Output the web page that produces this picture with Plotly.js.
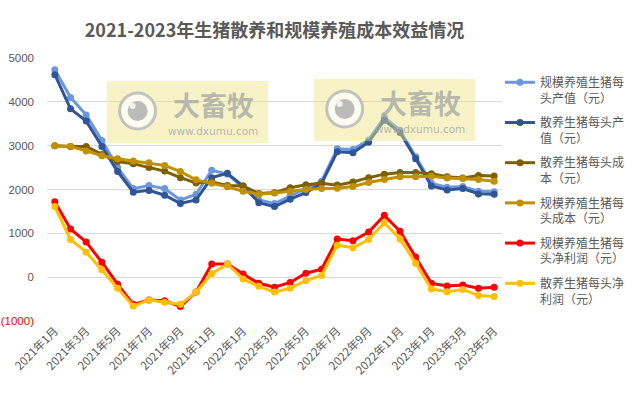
<!DOCTYPE html>
<html>
<head>
<meta charset="utf-8">
<script src="https://cdn.plot.ly/plotly-3.0.1.min.js"></script>
<style>
html,body{margin:0;padding:0;background:#fff;}
#chart{width:642px;height:394px;}
</style>
</head>
<body>
<div id="chart"></div>
<script>
// ---- data ----
const categories = ["2021年1月","2021年2月","2021年3月","2021年4月","2021年5月","2021年6月","2021年7月","2021年8月","2021年9月","2021年10月","2021年11月","2021年12月",
"2022年1月","2022年2月","2022年3月","2022年4月","2022年5月","2022年6月","2022年7月","2022年8月","2022年9月","2022年10月","2022年11月","2022年12月",
"2023年1月","2023年2月","2023年3月","2023年4月","2023年5月"];
const seriesNames = ["规模养殖生猪每<br>头产值（元）","散养生猪每头产<br>值（元）","散养生猪每头成<br>本（元）","规模养殖生猪每<br>头成本（元）","规模养殖生猪每<br>头净利润（元）","散养生猪每头净<br>利润（元）"];
const scaleValue  = [4730,4100,3700,3120,2500,2020,2090,2020,1760,1890,2440,2350,2040,1760,1680,1850,2020,2190,2930,2910,3130,3650,3350,2750,2140,2050,2070,1960,1950];
const freeValue   = [4620,3840,3560,2980,2410,1940,1980,1870,1680,1760,2270,2370,2080,1700,1610,1780,1930,2140,2860,2840,3080,3580,3300,2700,2080,1990,2020,1900,1890];
const freeCost    = [3000,2980,2980,2800,2640,2590,2500,2420,2270,2150,2170,2090,2080,1910,1930,2040,2110,2140,2100,2170,2270,2350,2390,2390,2360,2290,2260,2320,2310];
const scaleCost   = [3000,2980,2880,2770,2700,2650,2610,2550,2410,2220,2140,2060,1960,1890,1920,1960,2000,2020,2030,2070,2160,2230,2290,2290,2300,2260,2250,2230,2190];
const scaleProfit = [1720,1100,800,340,-160,-620,-520,-540,-670,-340,300,300,70,-140,-230,-120,90,180,870,830,1030,1410,1050,460,-140,-200,-180,-250,-230];
const freeProfit  = [1610,860,570,170,-250,-660,-520,-570,-620,-340,80,300,-40,-210,-340,-250,-80,40,730,670,860,1240,870,320,-270,-330,-280,-420,-440];
const yTickVals = [-1000,0,1000,2000,3000,4000,5000];
const yTickText = ['<span style="fill:#ff0000">(1000)</span>',"0","1000","2000","3000","4000","5000"];
const titleText = "2021-2023年生猪散养和规模养殖成本效益情况";
const wmMain = "大畜牧";
const wmSub = "www.dxumu.com";

// ---- styling ----
const colors = ["#6b98dc","#2f5597","#7f6000","#bf9000","#ff0000","#ffc000"];
const allSeries = [scaleValue, freeValue, freeCost, scaleCost, scaleProfit, freeProfit];

const traces = allSeries.map((vals, i) => ({
  type: "scatter", mode: "lines+markers",
  x: categories, y: vals, name: seriesNames[i],
  legendgroup: "g" + i,
  line: {color: colors[i], width: 3},
  marker: {color: colors[i], size: 7, symbol: "circle"},
  hoverinfo: "x+y"
}));

// plot area in pixels
const L = 47, R = 504, T = 58, B = 321;
const px = x => (x - L) / (R - L);
const py = y => (B - y) / (B - T);

const shapes = [];
const annotations = [];
function watermark(x0, y0) {
  shapes.push({type:"rect", xref:"paper", yref:"paper", layer:"above",
    x0:px(x0), x1:px(x0+162), y0:py(y0+62), y1:py(y0),
    fillcolor:"rgba(238,228,130,0.45)", line:{width:0}});
  const cx = x0 + 31, cy = y0 + 30;
  shapes.push({type:"circle", xref:"paper", yref:"paper", layer:"above",
    x0:px(cx-18), x1:px(cx+18), y0:py(cy+18), y1:py(cy-18),
    fillcolor:"rgba(255,255,255,0.75)", line:{color:"rgba(185,185,185,0.85)", width:3}});
  shapes.push({type:"circle", xref:"paper", yref:"paper", layer:"above",
    x0:px(cx-10), x1:px(cx+10), y0:py(cy+10), y1:py(cy-10),
    fillcolor:"rgba(175,175,175,0.85)", line:{width:0}});
  shapes.push({type:"circle", xref:"paper", yref:"paper", layer:"above",
    x0:px(cx-8), x1:px(cx-2), y0:py(cy-2), y1:py(cy-8),
    fillcolor:"rgba(245,245,245,0.95)", line:{width:0}});
  annotations.push({xref:"paper", yref:"paper", x:px(x0+107), y:py(y0+23),
    text:"<b>"+wmMain+"</b>", showarrow:false, xanchor:"center", yanchor:"middle",
    borderpad:0,
    font:{family:"Noto Sans CJK SC", size:27, color:"rgba(165,165,165,0.75)"}});
  annotations.push({xref:"paper", yref:"paper", x:px(x0+107), y:py(y0+50),
    text:wmSub, showarrow:false, xanchor:"center", yanchor:"middle",
    borderpad:0,
    font:{family:"DejaVu Sans", size:10.5, color:"rgba(170,170,170,0.85)"}});
}
watermark(107, 81);
watermark(315, 79);

const layout = {
  width: 642, height: 394,
  margin: {l: L, r: 642 - R, t: T, b: 394 - B, pad: 0},
  paper_bgcolor: "#ffffff", plot_bgcolor: "#ffffff",
  font: {family: "Noto Sans CJK SC, sans-serif", color: "#595959"},
  title: {text: "<b>" + titleText + "</b>", x: 0.5, xref: "paper", xanchor: "center",
          y: 1 - 31/394, yanchor: "middle",
          font: {family: "Noto Sans CJK SC", size: 18, color: "#595959"}},
  showlegend: true,
  legend: {x: px(502), xanchor: "left", y: py(68), yanchor: "top",
           font: {family: "Noto Sans CJK SC", size: 12, color: "#595959"},
           valign: "top", tracegroupgap: 6, itemwidth: 30, bgcolor: "rgba(0,0,0,0)"},
  xaxis: {type: "category", range: [-0.5, categories.length - 0.5],
          tickmode: "linear", tick0: 0, dtick: 2, tickangle: -45,
          ticks: "", showgrid: false, showline: false, zeroline: false,
          tickfont: {family: "Noto Sans CJK SC", size: 11.5, color: "#595959"}},
  xaxis2: {type: "category", overlaying: "x", anchor: "free", position: 1/6,
           range: [-0.5, categories.length - 0.5],
           categoryarray: categories, categoryorder: "array",
           tickmode: "linear", tick0: 0, dtick: 2, tickson: "boundaries",
           ticks: "outside", ticklen: 5, tickcolor: "#c8c8c8", tickwidth: 1,
           showticklabels: false, showgrid: false, showline: false, zeroline: false},
  yaxis: {range: [-1000, 5000], tickmode: "array", tickvals: yTickVals, ticktext: yTickText,
          showgrid: true, gridcolor: "#d9d9d9", gridwidth: 1, zeroline: false, showline: false,
          ticks: "", ticklabelstandoff: 12,
          tickfont: {family: "Liberation Sans", size: 11.5, color: "#595959"}},
  shapes: shapes,
  annotations: annotations
};

Plotly.newPlot("chart", traces, layout, {displayModeBar: false, staticPlot: true});
</script>
</body>
</html>
